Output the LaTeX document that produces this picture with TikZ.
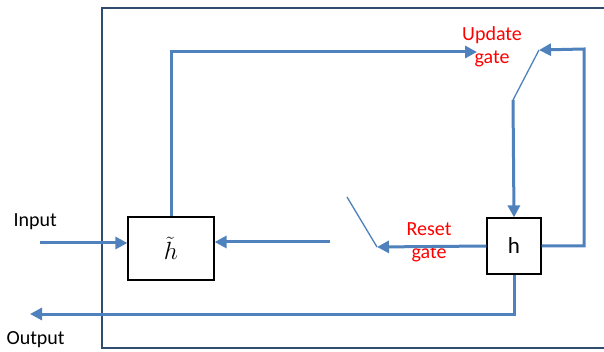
\documentclass[tikz,border=0pt]{standalone}
\usepackage{fontspec}
\setmainfont{Carlito}
\usetikzlibrary{arrows.meta,positioning}
\definecolor{wireblue}{HTML}{4F81BD}
\definecolor{frameblue}{HTML}{2F4B6E}
\definecolor{gatered}{HTML}{FF0000}

\begin{document}
\begin{tikzpicture}[x=1pt,y=-1pt,
  font=\fontsize{20}{23}\selectfont,
  link/.style={wireblue,line width=3pt,-{Triangle[length=12pt,width=12pt]}},
  flap/.style={wireblue,line width=1.3pt},
  cell/.style={draw=black,line width=1.2pt,fill=white,inner sep=0pt},
  gatelbl/.style={text=gatered,align=center}]
\useasboundingbox (0,0) rectangle (604,352);
% outer frame
\draw[frameblue,line width=2.8pt] (606,8) -- (102,8) -- (102,348) -- (606,348);
% cells
\node[cell,minimum width=86pt,minimum height=63pt,font=\fontsize{30}{34}\selectfont] (htilde) at (171,248.5) {$\tilde{h}$};
\node[cell,minimum width=54pt,minimum height=56pt,font=\fontsize{23}{26}\selectfont] (h) at (514,246) {h};
% switch ends and free ends
\coordinate (in) at (40,243);
\coordinate (out) at (30,314);
\coordinate (upd) at (477,52);
\coordinate (uA) at (539,50);
\coordinate (uB) at (513,100);
\coordinate (rA) at (377,247);
\coordinate (rB) at (347,197);
\coordinate (rC) at (330,242);
% labels
\node[anchor=west] (inlbl) at (10,222) {Input};
\node[anchor=west] (outlbl) at (3,340) {Output};
\node[gatelbl] (updlbl) at (492,47) {Update\\gate};
\node[gatelbl] (rstlbl) at (429,242) {Reset\\gate};
% connectors
\draw[link] (in) -- (htilde.west |- in);
\draw[link] (htilde.north) |- (upd);
\draw[link] (h.east) -| (584,49) -- (uA);
\draw[flap] (uB) -- (uA);
\draw[link] (uB) -- (h.north);
\draw[link] (h.west) -- (rA);
\draw[flap] (rB) -- (rA);
\draw[link] (rC) -- (htilde.east |- rC);
\draw[link] (h.south) |- (out);
\end{tikzpicture}
\end{document}
